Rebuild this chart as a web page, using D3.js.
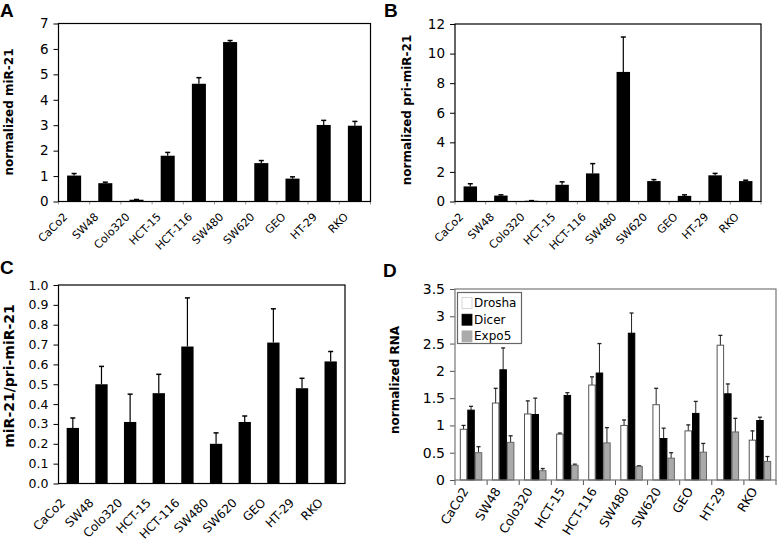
<!DOCTYPE html>
<html><head><meta charset="utf-8">
<script src="https://cdn.jsdelivr.net/npm/d3@7"></script>
<style>body{margin:0;background:#fff} svg{display:block}</style>
</head><body><svg id="c" width="777" height="542"></svg>
<script>
const categories = ["CaCo2","SW48","Colo320","HCT-15","HCT-116","SW480","SW620","GEO","HT-29","RKO"];
const mirValues = [1.02,0.72,0.07,1.80,4.63,6.27,1.51,0.90,3.01,2.98];
const mirErrors = [0.08,0.04,0.01,0.13,0.24,0.06,0.10,0.07,0.18,0.17];
const priValues = [1.02,0.40,0.05,1.13,1.90,8.76,1.38,0.38,1.77,1.38];
const priErrors = [0.18,0.05,0.01,0.20,0.66,2.36,0.10,0.07,0.13,0.06];
const ratioValues = [0.28,0.50,0.31,0.455,0.69,0.20,0.31,0.71,0.48,0.615];
const ratioErrors = [0.05,0.09,0.14,0.095,0.245,0.055,0.03,0.17,0.05,0.05];
const seriesNames = ["Drosha","Dicer","Expo5"];
const droshaValues = [0.93,1.41,1.21,0.84,1.74,1.00,1.38,0.90,2.47,0.73];
const droshaErrors = [0.07,0.27,0.24,0.02,0.15,0.10,0.30,0.11,0.18,0.17];
const dicerValues = [1.28,2.02,1.20,1.55,1.96,2.69,0.76,1.22,1.58,1.09];
const dicerErrors = [0.07,0.40,0.30,0.05,0.54,0.37,0.19,0.22,0.18,0.06];
const expo5Values = [0.50,0.69,0.17,0.27,0.68,0.25,0.40,0.51,0.88,0.34];
const expo5Errors = [0.11,0.12,0.04,0.02,0.28,0.01,0.10,0.16,0.25,0.09];
const ticksA = [0,1,2,3,4,5,6,7];
const ticksB = [0,2,4,6,8,10,12];
const ticksC = [0,0.1,0.2,0.3,0.4,0.5,0.6,0.7,0.8,0.9,1.0];
const ticksD = [0,0.5,1,1.5,2,2.5,3,3.5];

const svg = d3.select("#c");
const FONT = "DejaVu Sans, Verdana, sans-serif";

function letter(t, x, y){
  svg.append("text").attr("x",x).attr("y",y).text(t)
    .attr("font-family","Liberation Sans, Arial, sans-serif").attr("font-weight","bold").attr("font-size",19);
}

function axesFrame(o, x, y){
  const g = svg.append("g");
  const ya = g.append("g").attr("transform",`translate(${o.left},0)`)
    .call(d3.axisLeft(y).tickValues(o.ticks).tickFormat(o.fmt).tickSize(5).tickPadding(5));
  ya.select(".domain").remove();
  ya.selectAll(".tick line").attr("stroke",o.axisColor);
  ya.selectAll("text").attr("font-family",FONT).attr("font-size",o.tickFont).attr("fill","#000");
  g.selectAll("line.xt").data(d3.range(categories.length+1)).join("line")
    .attr("x1",i=>o.left + i*x.step()).attr("x2",i=>o.left + i*x.step())
    .attr("y1",o.bottom).attr("y2",o.bottom+o.xTick)
    .attr("stroke",o.xTickColor).attr("stroke-width",1);
  g.selectAll("text.xl").data(categories).join("text")
    .attr("transform",d=>`translate(${x(d)+x.bandwidth()/2+o.lx},${o.bottom+o.ly}) rotate(${o.angle})`)
    .attr("text-anchor","end").attr("font-family",FONT).attr("font-size",o.xFont).text(d=>d);
  svg.append("text").attr("transform",`translate(${o.ylx},${o.yly}) rotate(-90)`)
    .attr("text-anchor","middle").attr("font-family",FONT).attr("font-weight","bold")
    .attr("font-size",o.yFont).text(o.ylabel);
  return g;
}

function frame(o){
  svg.append("rect").attr("x",o.left).attr("y",o.top).attr("width",o.right-o.left).attr("height",o.bottom-o.top)
    .attr("fill","none").attr("stroke",o.frameColor).attr("stroke-width",o.frameW);
}

function simplePanel(o, values, errors){
  const x = d3.scaleBand().domain(categories).range([o.left,o.right]).paddingInner(o.pad).paddingOuter(o.pad/2);
  const y = d3.scaleLinear().domain([0,o.yMax]).range([o.bottom,o.top]);
  axesFrame(o, x, y);
  const data = categories.map((c,i)=>({c, v:values[i], e:errors[i]}));
  const g = svg.append("g");
  g.selectAll("line.eb").data(data).join("line")
    .attr("x1",d=>x(d.c)+x.bandwidth()/2).attr("x2",d=>x(d.c)+x.bandwidth()/2)
    .attr("y1",d=>y(d.v)).attr("y2",d=>y(d.v+d.e)).attr("stroke","#000").attr("stroke-width",1.2);
  g.selectAll("line.cap").data(data).join("line")
    .attr("x1",d=>x(d.c)+x.bandwidth()/2-o.cap).attr("x2",d=>x(d.c)+x.bandwidth()/2+o.cap)
    .attr("y1",d=>y(d.v+d.e)).attr("y2",d=>y(d.v+d.e)).attr("stroke","#000").attr("stroke-width",1.5);
  g.selectAll("rect").data(data).join("rect")
    .attr("x",d=>x(d.c)).attr("width",x.bandwidth())
    .attr("y",d=>y(d.v)).attr("height",d=>y(0)-y(d.v)).attr("fill","#000");
  frame(o);
}

// Panel A
letter("A",0,17);
simplePanel({left:58.5,right:370.5,top:23.5,bottom:201.5,yMax:7,ticks:ticksA,fmt:d3.format("d"),
  pad:0.55,cap:2.5,tickFont:13.5,xFont:11,angle:-45,lx:-6,ly:16,xTick:3,xTickColor:"#999",axisColor:"#000",
  ylx:12.5,yly:112,yFont:12,ylabel:"normalized miR-21",frameColor:"#000",frameW:1.2}, mirValues, mirErrors);

// Panel B
letter("B",384,17);
simplePanel({left:455,right:761,top:24,bottom:201.5,yMax:12,ticks:ticksB,fmt:d3.format("d"),
  pad:0.56,cap:2.5,tickFont:13.5,xFont:11,angle:-45,lx:-6,ly:16,xTick:3,xTickColor:"#999",axisColor:"#000",
  ylx:411,yly:110,yFont:12,ylabel:"normalized pri-miR-21",frameColor:"#000",frameW:1.2}, priValues, priErrors);

// Panel C
letter("C",0,274);
simplePanel({left:58.5,right:345,top:285,bottom:483.5,yMax:1.0,ticks:ticksC,fmt:d3.format(".1f"),
  pad:0.57,cap:2.5,tickFont:12.5,xFont:12,angle:-45,lx:-7,ly:20,xTick:0,xTickColor:"#999",axisColor:"#000",
  ylx:13.5,yly:376,yFont:14,ylabel:"miR-21/pri-miR-21",frameColor:"#000",frameW:1.2}, ratioValues, ratioErrors);

// Panel D
letter("D",383,277);
(function(){
  const o = {left:455,right:776,top:289,bottom:480,yMax:3.5,ticks:ticksD,fmt:d=>String(d),
    pad:0.3,tickFont:14,xFont:12.5,angle:-58,lx:-2,ly:11,xTick:5,xTickColor:"#555",axisColor:"#555",
    ylx:399,yly:380,yFont:12,ylabel:"normalized RNA",frameColor:"#777",frameW:1.2};
  const x = d3.scaleBand().domain(categories).range([o.left,o.right]).paddingInner(o.pad).paddingOuter(o.pad/2);
  const x1 = d3.scaleBand().domain(seriesNames).range([0,x.bandwidth()]);
  const y = d3.scaleLinear().domain([0,o.yMax]).range([o.bottom,o.top]);
  axesFrame(o, x, y);
  const vals = {Drosha:droshaValues, Dicer:dicerValues, Expo5:expo5Values};
  const errs = {Drosha:droshaErrors, Dicer:dicerErrors, Expo5:expo5Errors};
  const fills = {Drosha:"#fff", Dicer:"#000", Expo5:"#aaa"};
  const strokes = {Drosha:"#555", Dicer:"#000", Expo5:"#666"};
  const data = [];
  categories.forEach((c,i)=>seriesNames.forEach(s=>data.push({c,s,v:vals[s][i],e:errs[s][i]})));
  const g = svg.append("g");
  const cx = d=>x(d.c)+x1(d.s)+x1.bandwidth()/2;
  g.selectAll("line.eb").data(data).join("line")
    .attr("x1",cx).attr("x2",cx).attr("y1",d=>y(d.v)).attr("y2",d=>y(d.v+d.e)).attr("stroke","#222").attr("stroke-width",1);
  g.selectAll("line.cap").data(data).join("line")
    .attr("x1",d=>cx(d)-2).attr("x2",d=>cx(d)+2).attr("y1",d=>y(d.v+d.e)).attr("y2",d=>y(d.v+d.e))
    .attr("stroke","#222").attr("stroke-width",1.3);
  g.selectAll("rect").data(data).join("rect")
    .attr("x",d=>x(d.c)+x1(d.s)+0.5).attr("width",x1.bandwidth()-1)
    .attr("y",d=>y(d.v)).attr("height",d=>y(0)-y(d.v))
    .attr("fill",d=>fills[d.s]).attr("stroke",d=>strokes[d.s]).attr("stroke-width",1);
  frame(o);
  const lg = svg.append("g");
  lg.append("rect").attr("x",457.5).attr("y",292.5).attr("width",64).attr("height",51)
    .attr("fill","#fff").attr("stroke","#666").attr("stroke-width",1.2);
  const rows = lg.selectAll("g").data(seriesNames).join("g")
    .attr("transform",(d,i)=>`translate(462,${297.5+i*16.7})`);
  rows.append("rect").attr("width",10).attr("height",11)
    .attr("fill",d=>fills[d]).attr("stroke",d=>d==="Drosha"?"#ccc":fills[d]).attr("stroke-width",0.8);
  rows.append("text").attr("x",12).attr("y",9.5).attr("font-family",FONT).attr("font-size",12).text(d=>d);
})();
</script></body></html>
